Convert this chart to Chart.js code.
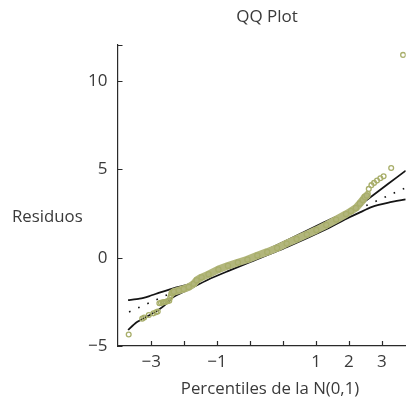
<!DOCTYPE html>
<html>
<head>
<meta charset="utf-8">
<script src="https://cdn.jsdelivr.net/npm/chart.js@4.4.1/dist/chart.umd.min.js"></script>
<style>
  html, body { margin: 0; padding: 0; background: #fff; }
  #wrap { width: 411px; height: 409px; position: relative; }
</style>
</head>
<body>
<div id="wrap"><canvas id="qq"></canvas></div>
<script>
"use strict";

// Tick positions and labels (as printed on the original)
var xTickValues = [-3, -2, -1, 0, 1, 2, 3, 4];
var xTickLabels = ['\u22123', '', '\u22121', '', '', '1', '2', '3'];
var yTickValues = [-5, 0, 5, 10];
var yTickLabels = ['\u22125', '0', '5', '10'];

// Dense band of residuals (theoretical quantile, residual)
var bandQ = [-2.36, -2.31, -2.16, -2.01, -1.86, -1.71, -1.62, -1.47, -1.26, -0.96, -0.67, -0.37, -0.08, 0.22, 0.52, 0.82, 1.11, 1.41, 1.72, 2.01, 2.31, 2.61, 2.91, 3.06, 3.21, 3.33, 3.42, 3.48, 3.54];
var bandR = [-2.00, -1.93, -1.85, -1.77, -1.66, -1.48, -1.28, -1.11, -0.94, -0.66, -0.46, -0.27, -0.10, 0.13, 0.33, 0.55, 0.81, 1.06, 1.32, 1.57, 1.85, 2.16, 2.47, 2.64, 2.82, 3.07, 3.27, 3.44, 3.52];

// Sparse tails
var tailQ = [-3.68, -3.27, -3.21, -3.07, -2.93, -2.85, -2.80, -2.75, -2.70, -2.65, -2.60, -2.55, -2.50, -2.45, -2.42, -2.40, 3.57, 3.60, 3.68, 3.76, 3.85, 3.95, 4.05, 4.28, 4.64];
var tailR = [-4.35, -3.45, -3.39, -3.24, -3.15, -3.09, -3.05, -2.58, -2.56, -2.53, -2.51, -2.49, -2.46, -2.43, -2.25, -2.13, 3.62, 3.90, 4.11, 4.24, 4.37, 4.50, 4.61, 5.08, 11.49];

// Envelope lines
var upperQ = [-3.70, -3.35, -3.05, -2.75, -2.26, -1.86, -1.66, -0.67, 0.00, 1.12, 2.21, 3.21, 3.70, 4.20, 4.72];
var upperR = [-2.40, -2.32, -2.17, -1.98, -1.69, -1.51, -1.32, -0.50, 0.02, 0.98, 1.98, 2.85, 3.50, 4.20, 4.93];
var lowerQ = [-3.70, -3.45, -3.05, -2.75, -2.50, -2.36, -1.86, -1.26, -0.67, 0.03, 1.11, 2.31, 2.91, 3.30, 3.70, 4.20, 4.72];
var lowerR = [-4.09, -3.67, -3.26, -2.92, -2.54, -2.26, -1.79, -1.23, -0.76, -0.22, 0.60, 1.62, 2.20, 2.54, 2.88, 3.12, 3.30];

// Reference line (dotted)
var refQ = [-3.67, 4.72];
var refR = [-3.07, 3.96];

var textColor = '#3a3a3a';
var axisColor = '#2a2a2a';
var olive = 'rgb(178,182,124)';
var oliveEdge = 'rgb(168,174,106)';
var fontFamily = "'Open Sans', sans-serif";

var pairs = function (qs, rs) {
    return qs.map(function (q, i) { return { x: q, y: rs[i] }; });
};

// Inward tick marks and the free-standing texts
var decorPlugin = {
    id: 'decor',
    afterDraw: function (chart) {
        var ctx = chart.ctx;
        var a = chart.chartArea;
        var xs = chart.scales.x;
        var ys = chart.scales.y;
        ctx.save();
        ctx.strokeStyle = axisColor;
        ctx.lineWidth = 1.2;
        ctx.beginPath();
        xTickValues.forEach(function (v) {
            var p = Math.round(xs.getPixelForValue(v)) + 0.5;
            ctx.moveTo(p, a.bottom);
            ctx.lineTo(p, a.bottom - 5);
        });
        yTickValues.concat([ys.max]).forEach(function (v) {
            var p = Math.round(ys.getPixelForValue(v)) + 0.5;
            ctx.moveTo(a.left, p);
            ctx.lineTo(a.left + 5, p);
        });
        ctx.stroke();

        ctx.fillStyle = textColor;
        ctx.textBaseline = 'middle';
        ctx.textAlign = 'center';
        ctx.font = '17px ' + fontFamily;
        ctx.fillText('QQ Plot', 267, 17);
        ctx.font = '16.8px ' + fontFamily;
        ctx.fillText('Percentiles de la N(0,1)', 270, 389);
        ctx.textAlign = 'left';
        ctx.fillText('Residuos', 12, 217);
        ctx.restore();
    }
};

var config = {
    type: 'scatter',
    data: {
        datasets: [{
            label: 'band',
            data: pairs(bandQ, bandR),
            showLine: true,
            borderColor: olive,
            borderWidth: 7.5,
            borderCapStyle: 'round',
            borderJoinStyle: 'round',
            pointRadius: 2.6,
            pointBorderWidth: 1.2,
            pointBorderColor: oliveEdge,
            pointBackgroundColor: olive,
            order: 1
        }, {
            label: 'tails',
            data: pairs(tailQ, tailR),
            showLine: false,
            pointRadius: 2.4,
            pointBorderWidth: 1.3,
            pointBorderColor: oliveEdge,
            pointBackgroundColor: 'rgba(255,255,255,0)',
            order: 1
        }, {
            label: 'upper',
            data: pairs(upperQ, upperR),
            showLine: true,
            borderColor: '#151515',
            borderWidth: 1.8,
            pointRadius: 0,
            tension: 0.2,
            order: 2
        }, {
            label: 'lower',
            data: pairs(lowerQ, lowerR),
            showLine: true,
            borderColor: '#151515',
            borderWidth: 1.8,
            pointRadius: 0,
            tension: 0.2,
            order: 2
        }, {
            label: 'ref',
            data: pairs(refQ, refR),
            showLine: true,
            borderColor: '#111',
            borderWidth: 1.6,
            borderDash: [1.6, 8.4],
            pointRadius: 0,
            order: 3
        }]
    },
    options: {
        responsive: true,
        maintainAspectRatio: false,
        animation: false,
        layout: {
            padding: { top: 45, left: 0, right: 0, bottom: 0 }
        },
        scales: {
            x: {
                type: 'linear',
                min: -4.02,
                max: 4.72,
                afterFit: function (s) { s.height = 63; },
                afterBuildTicks: function (s) {
                    s.ticks = xTickValues.map(function (v) { return { value: v }; });
                },
                grid: { display: false, drawTicks: false },
                border: { display: true, color: axisColor, width: 1.2 },
                ticks: {
                    autoSkip: false,
                    maxRotation: 0,
                    padding: 6,
                    color: textColor,
                    font: { family: fontFamily, size: 17 },
                    callback: function (v, i) { return xTickLabels[i]; }
                }
            },
            y: {
                type: 'linear',
                min: -5,
                max: 12.05,
                afterFit: function (s) { s.width = 117.5; },
                afterBuildTicks: function (s) {
                    s.ticks = yTickValues.map(function (v) { return { value: v }; });
                },
                grid: { display: false, drawTicks: false },
                border: { display: true, color: axisColor, width: 1.2 },
                ticks: {
                    padding: 10,
                    color: textColor,
                    font: { family: fontFamily, size: 17 },
                    callback: function (v, i) { return yTickLabels[i]; }
                }
            }
        },
        plugins: {
            legend: { display: false },
            tooltip: { enabled: false },
            title: { display: false }
        }
    },
    plugins: [decorPlugin]
};

new Chart(document.getElementById('qq').getContext('2d'), config);
</script>
</body>
</html>
